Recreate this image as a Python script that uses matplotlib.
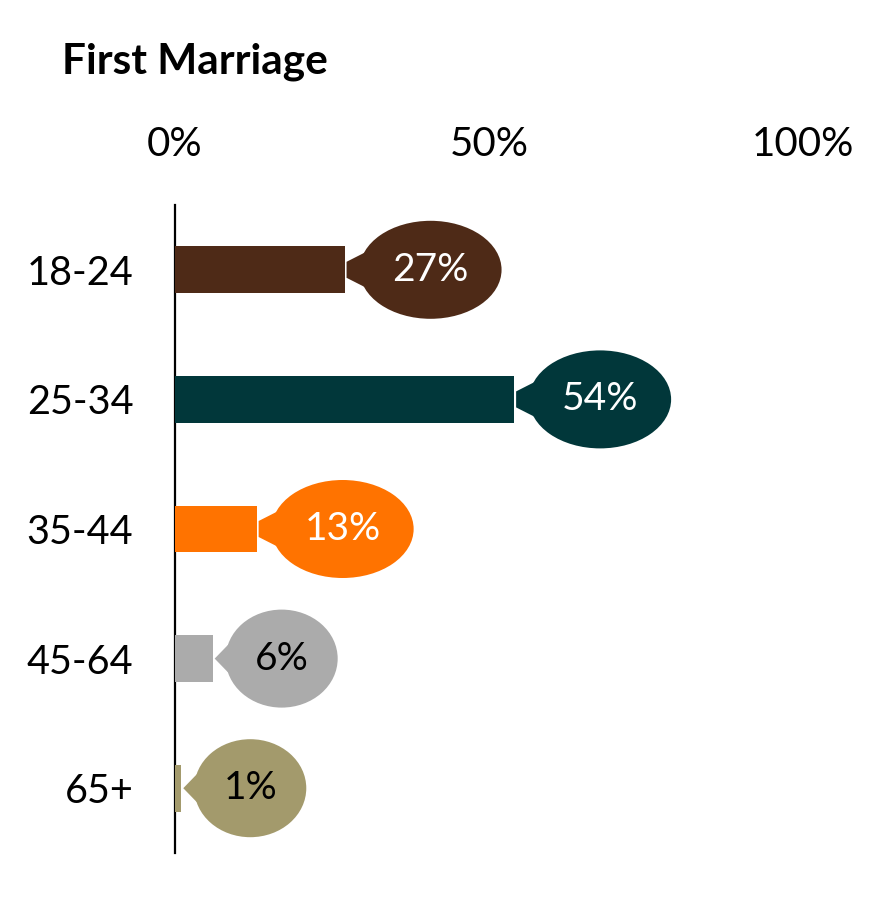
import matplotlib.pyplot as plt
from matplotlib.patches import Ellipse, Polygon

plt.rcParams['font.family'] = ['Lato', 'DejaVu Sans']

# data
age_groups = ['18-24', '25-34', '35-44', '45-64', '65+']
shares = [27, 54, 13, 6, 1]
bar_colors = ['#4E2A17', '#01373A', '#FF7300', '#ABABAB', '#A39A6C']
text_colors = ['white', 'white', 'white', 'black', 'black']

fig = plt.figure(figsize=(8.96, 8.97), dpi=100)
ax = fig.add_axes([175 / 896, 44 / 897, 628 / 896, 648 / 897])

ypos = list(range(len(age_groups)))
ax.barh(ypos, shares, height=0.36, color=bar_colors, zorder=3)

# px -> data units
px_x = 100 / 628.0
px_y = 5 / 648.0

for y, val, col, tcol in zip(ypos, shares, bar_colors, text_colors):
    label = '%d%%' % val
    if val >= 10:
        w_px, off_px, tip_h = 142, 86, 8
    else:
        w_px, off_px, tip_h = 112, 69, 0
    cx = val + off_px * px_x
    e = Ellipse((cx, y), w_px * px_x, 98 * px_y, facecolor=col,
                edgecolor='none', zorder=4)
    ax.add_patch(e)
    tip_x = val + 2 * px_x
    base_x = cx - 0.85 * w_px / 2 * px_x
    wedge = Polygon([(tip_x, y - tip_h * px_y), (base_x, y - 20 * px_y),
                     (base_x, y + 20 * px_y), (tip_x, y + tip_h * px_y)],
                    closed=True, facecolor=col, edgecolor='none', zorder=4)
    ax.add_patch(wedge)
    ax.text(cx, y, label, ha='center', va='center', fontsize=28,
            color=tcol, zorder=5)

ax.set_xlim(0, 100)
ax.set_ylim(4.5, -0.5)
ax.set_yticks(ypos)
ax.set_yticklabels(age_groups, fontsize=28.5)
ax.set_xticks([0, 50, 100])
ax.set_xticklabels(['0%', '50%', '100%'], fontsize=29)
ax.xaxis.tick_top()
ax.tick_params(axis='both', length=0)
ax.tick_params(axis='x', pad=30)
ax.tick_params(axis='y', pad=30)
for s in ['top', 'right', 'bottom']:
    ax.spines[s].set_visible(False)
ax.spines['left'].set_linewidth(1.6)
ax.spines['left'].set_color('black')

fig.text(62 / 896, 1 - 62 / 897, 'First Marriage', fontsize=30.5,
         fontweight='bold', ha='left', va='center')

fig.savefig('out.png', dpi=100)
